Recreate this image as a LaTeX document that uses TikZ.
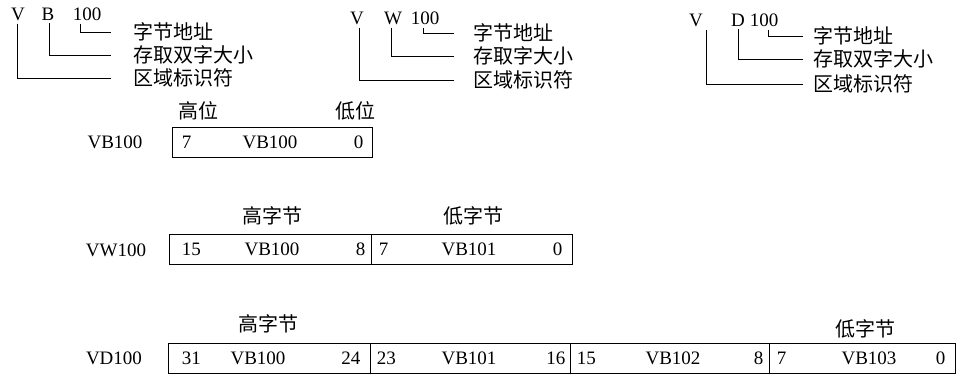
\documentclass[tikz,border=0pt]{standalone}
\usepackage{fontspec}
\setmainfont{Liberation Serif}
\newfontfamily\cjk{Noto Sans CJK SC}
\begin{document}
\begin{tikzpicture}[x=1pt,y=-1pt,
  lat/.style={font=\fontsize{19}{21}\selectfont, inner sep=0pt},
  zh/.style={font=\cjk\fontsize{20}{22}\selectfont, inner sep=0pt},
  ln/.style={line width=0.8pt},
  cell/.style={draw, line width=0.9pt, minimum height=30pt, inner sep=0pt, rectangle}]
\useasboundingbox (0,0) rectangle (970,376);

% ---------- group 1 ----------
\node[lat] (v1) at (18,14) {V};
\node[lat] (b1) at (48,14) {B};
\node[lat] (n1) at (87,14) {100};
\node[zh,anchor=west] (l1a) at (133,32) {字节地址};
\node[zh,anchor=west] (l1b) at (133,55) {存取双字大小};
\node[zh,anchor=west] (l1c) at (133,78) {区域标识符};
\draw[ln] ([yshift=-3pt,xshift=-1pt]v1.south) |- ([xshift=-22pt]l1c.west);
\draw[ln] ([yshift=-3pt,xshift=1pt]b1.south) |- ([xshift=-22pt]l1b.west);
\draw[ln] ([yshift=-3pt,xshift=-7pt]n1.south) |- ([xshift=-22pt]l1a.west);

% ---------- group 2 ----------
\node[lat] (v2) at (357,18) {V};
\node[lat] (w2) at (393,18) {W};
\node[lat] (n2) at (425,18) {100};
\node[zh,anchor=west] (l2a) at (473,33) {字节地址};
\node[zh,anchor=west] (l2b) at (473,56) {存取字大小};
\node[zh,anchor=west] (l2c) at (473,80) {区域标识符};
\draw[ln] ([yshift=-3pt,xshift=2pt]v2.south) |- ([xshift=-19pt]l2c.west);
\draw[ln] ([yshift=-3pt,xshift=-2pt]w2.south) |- ([xshift=-19pt]l2b.west);
\draw[ln] ([yshift=-3pt,xshift=-2pt]n2.south) |- ([xshift=-19pt]l2a.west);

% ---------- group 3 ----------
\node[lat] (v3) at (696,20) {V};
\node[lat] (d3) at (738,20) {D};
\node[lat] (n3) at (764,20) {100};
\node[zh,anchor=west] (l3a) at (813,36) {字节地址};
\node[zh,anchor=west] (l3b) at (813,59) {存取双字大小};
\node[zh,anchor=west] (l3c) at (813,84) {区域标识符};
\draw[ln] ([yshift=-3pt,xshift=10pt]v3.south) |- ([xshift=-10pt]l3c.west);
\draw[ln] ([yshift=-3pt]d3.south) |- ([xshift=-10pt]l3b.west);
\draw[ln] ([yshift=-3pt,xshift=4pt]n3.south) |- ([xshift=-10pt]l3a.west);

% ---------- row 1 : VB100 ----------
\node[zh] (h1) at (198,111) {高位};
\node[zh] (lo1) at (355,111) {低位};
\node[lat] (lab1) at (115,142) {VB100};
\node[cell, minimum width=200pt] (r1) at (272,142) {};
\node[lat,anchor=west] (r1s) at ([xshift=10pt]r1.west) {7};
\node[lat] (r1n) at (270,142) {VB100};
\node[lat,anchor=east] (r1e) at ([xshift=-9pt]r1.east) {0};

% ---------- row 2 : VW100 ----------
\node[zh] (h2) at (272,216) {高字节};
\node[zh] (lo2) at (473,216) {低字节};
\node[lat] (lab2) at (116,250) {VW100};
\node[cell, minimum width=202pt] (r2a) at (270,249.5) {};
\node[cell, minimum width=201pt] (r2b) at (471.5,249.5) {};
\node[lat,anchor=west] (r2as) at ([xshift=13pt]r2a.west) {15};
\node[lat] (r2an) at (272,249.5) {VB100};
\node[lat,anchor=east] (r2ae) at ([xshift=-6pt]r2a.east) {8};
\node[lat,anchor=west] (r2bs) at ([xshift=8pt]r2b.west) {7};
\node[lat] (r2bn) at (469,249.5) {VB101};
\node[lat,anchor=east] (r2be) at ([xshift=-10pt]r2b.east) {0};

% ---------- row 3 : VD100 ----------
\node[zh] (h3) at (268,324) {高字节};
\node[zh] (lo3) at (865,329) {低字节};
\node[lat] (lab3) at (114,358) {VD100};
\node[cell, minimum width=202pt] (r3a) at (269,358) {};
\node[cell, minimum width=200pt] (r3b) at (470,358) {};
\node[cell, minimum width=199pt] (r3c) at (669.5,358) {};
\node[cell, minimum width=186pt] (r3d) at (862,358) {};
\node[lat,anchor=west] (r3as) at ([xshift=14pt]r3a.west) {31};
\node[lat] (r3an) at (258,358) {VB100};
\node[lat,anchor=east] (r3ae) at ([xshift=-10pt]r3a.east) {24};
\node[lat,anchor=west] (r3bs) at ([xshift=7pt]r3b.west) {23};
\node[lat] (r3bn) at (469,358) {VB101};
\node[lat,anchor=east] (r3be) at ([xshift=-5pt]r3b.east) {16};
\node[lat,anchor=west] (r3cs) at ([xshift=7pt]r3c.west) {15};
\node[lat] (r3cn) at (673,358) {VB102};
\node[lat,anchor=east] (r3ce) at ([xshift=-6pt]r3c.east) {8};
\node[lat,anchor=west] (r3ds) at ([xshift=8pt]r3d.west) {7};
\node[lat] (r3dn) at (869,358) {VB103};
\node[lat,anchor=east] (r3de) at ([xshift=-10pt]r3d.east) {0};
\end{tikzpicture}
\end{document}
